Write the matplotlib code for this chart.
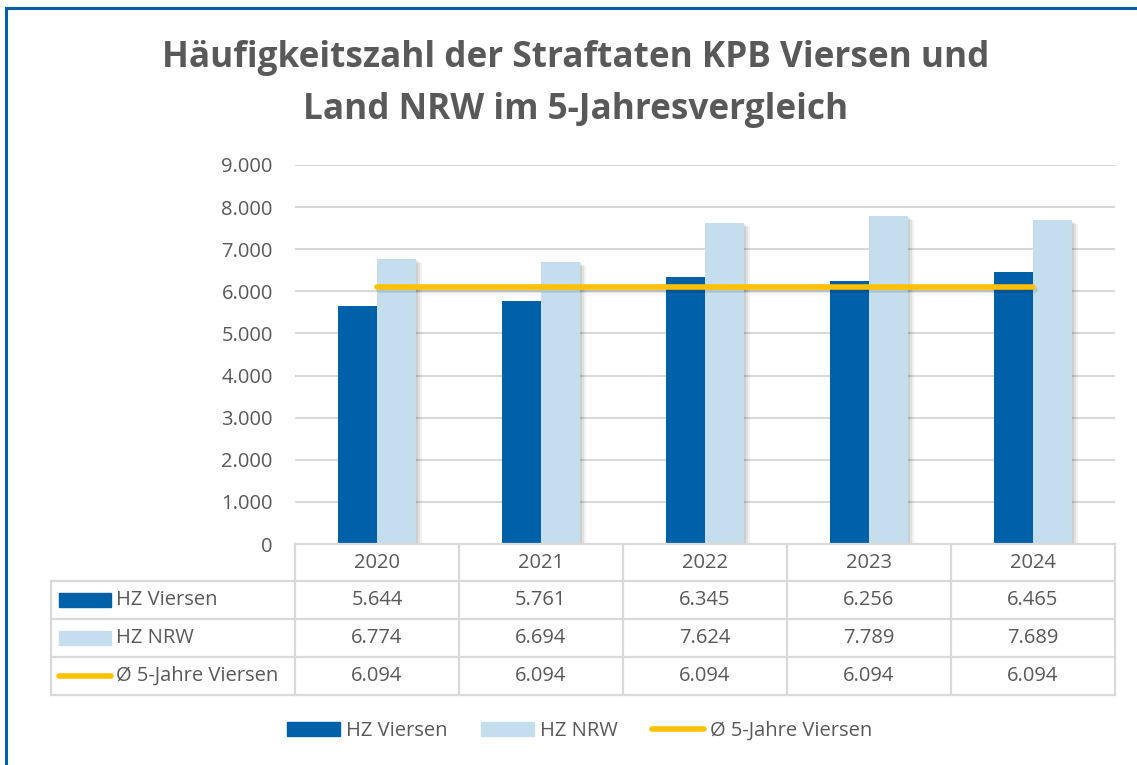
import matplotlib
matplotlib.use('Agg')
import matplotlib.pyplot as plt
import matplotlib.transforms as mtransforms
import matplotlib.patheffects as pe
from matplotlib.patches import Rectangle, Patch
from matplotlib.lines import Line2D
from matplotlib.ticker import FuncFormatter

years = ['2020', '2021', '2022', '2023', '2024']
hz_viersen = [5644, 5761, 6345, 6256, 6465]
hz_nrw = [6774, 6694, 7624, 7789, 7689]
avg_viersen = [6094, 6094, 6094, 6094, 6094]
series_names = ['HZ Viersen', 'HZ NRW', 'Ø 5-Jahre Viersen']

dark = '#0060a8'
light = '#c5deed'
yellow = '#ffc000'
grey_txt = '#595959'
grid_c = '#d9d9d9'
fs = 14.5

plt.rcParams['font.family'] = ['Open Sans', 'DejaVu Sans']

W, H = 1137, 765
fig = plt.figure(figsize=(W / 100, H / 100), dpi=100)

def fx(px):
    return px / W

def fy(py):
    return 1 - py / H

# outer frame (only top and left visible)
fig.add_artist(Line2D([fx(5.5), 1], [fy(7.5), fy(7.5)], color=dark, lw=2.2, transform=fig.transFigure))
fig.add_artist(Line2D([fx(5.5), fx(5.5)], [fy(7.5), 0], color=dark, lw=2.2, transform=fig.transFigure))

fig.text(fx(576), fy(58), 'Häufigkeitszahl der Straftaten KPB Viersen und', ha='center', va='center',
         fontsize=25.3, fontweight='bold', color=grey_txt)
fig.text(fx(576), fy(110), 'Land NRW im 5-Jahresvergleich', ha='center', va='center',
         fontsize=25.3, fontweight='bold', color=grey_txt)

ax = fig.add_axes([fx(295), fy(544), fx(1115) - fx(295), fy(165) - fy(544)])
x = list(range(len(years)))
w = 0.24
shadow = [pe.SimplePatchShadow(offset=(4, -3), shadow_rgbFace='black', alpha=0.05),
          pe.SimplePatchShadow(offset=(2.5, -2), shadow_rgbFace='black', alpha=0.07),
          pe.SimplePatchShadow(offset=(1, -1), shadow_rgbFace='black', alpha=0.08),
          pe.Normal()]
b1 = ax.bar([i - w / 2 for i in x], hz_viersen, width=w, color=dark, zorder=3)
b2 = ax.bar([i + w / 2 for i in x], hz_nrw, width=w, color=light, zorder=3)
for b in list(b1) + list(b2):
    b.set_path_effects(shadow)
ax.plot(x, avg_viersen, color=yellow, lw=4, solid_capstyle='round', zorder=4,
        path_effects=[pe.SimpleLineShadow(offset=(1.5, -2), alpha=0.12), pe.Normal()])

ax.set_xlim(-0.5, len(years) - 0.5)
ax.set_ylim(0, 9000)
ax.set_yticks(range(0, 9001, 1000))
ax.yaxis.set_major_formatter(FuncFormatter(lambda v, p: f'{int(v):,}'.replace(',', '.')))
ax.set_xticks([])
ax.tick_params(axis='y', length=0, pad=16, labelsize=fs, labelcolor=grey_txt)
ax.grid(axis='y', color=grid_c, lw=1.5, zorder=0)
for s in ax.spines.values():
    s.set_visible(False)

# data table below the plot
tr = mtransforms.blended_transform_factory(ax.transData, fig.transFigure)
rows_y = [544, 581, 619, 657, 695]
lc = dict(color=grid_c, lw=1.6, clip_on=False)
for py in rows_y:
    fig.add_artist(Line2D([-0.5, len(years) - 0.5], [fy(py), fy(py)], transform=tr, **lc))
for py in rows_y[1:]:
    fig.add_artist(Line2D([fx(51), fx(295)], [fy(py), fy(py)], transform=fig.transFigure, **lc))
fig.add_artist(Line2D([fx(51), fx(51)], [fy(581), fy(695)], transform=fig.transFigure, **lc))
for i in range(len(years) + 1):
    fig.add_artist(Line2D([i - 0.5, i - 0.5], [fy(544), fy(695)], transform=tr, **lc))

vals = [hz_viersen, hz_nrw, avg_viersen]
for i, yr in enumerate(years):
    fig.text(i, fy(563), yr, transform=tr, ha='center', va='center', fontsize=fs, color=grey_txt)
    for r, v in enumerate(vals):
        fig.text(i, fy((rows_y[r + 1] + rows_y[r + 2]) / 2), f'{v[i]:,}'.replace(',', '.'),
                 transform=tr, ha='center', va='center', fontsize=fs, color=grey_txt)

for r, name in enumerate(series_names):
    cy = (rows_y[r + 1] + rows_y[r + 2]) / 2
    if r < 2:
        fig.add_artist(Rectangle((fx(59), fy(cy + 7)), fx(111) - fx(59), fy(cy - 7) - fy(cy + 7),
                                 color=[dark, light][r], transform=fig.transFigure))
    else:
        fig.add_artist(Line2D([fx(59), fx(111)], [fy(cy), fy(cy)], color=yellow, lw=4,
                              solid_capstyle='round', transform=fig.transFigure))
    fig.text(fx(116), fy(cy), name, ha='left', va='center', fontsize=fs, color=grey_txt)

handles = [Patch(color=dark), Patch(color=light), Line2D([], [], color=yellow, lw=4, solid_capstyle='round')]
fig.legend(handles, series_names, loc='center', bbox_to_anchor=(fx(580), fy(731)), ncol=3,
           frameon=False, fontsize=fs, labelcolor=grey_txt, handlelength=2.6, handleheight=0.75,
           handletextpad=0.3, columnspacing=1.7)

plt.savefig('out.png', dpi=100)
